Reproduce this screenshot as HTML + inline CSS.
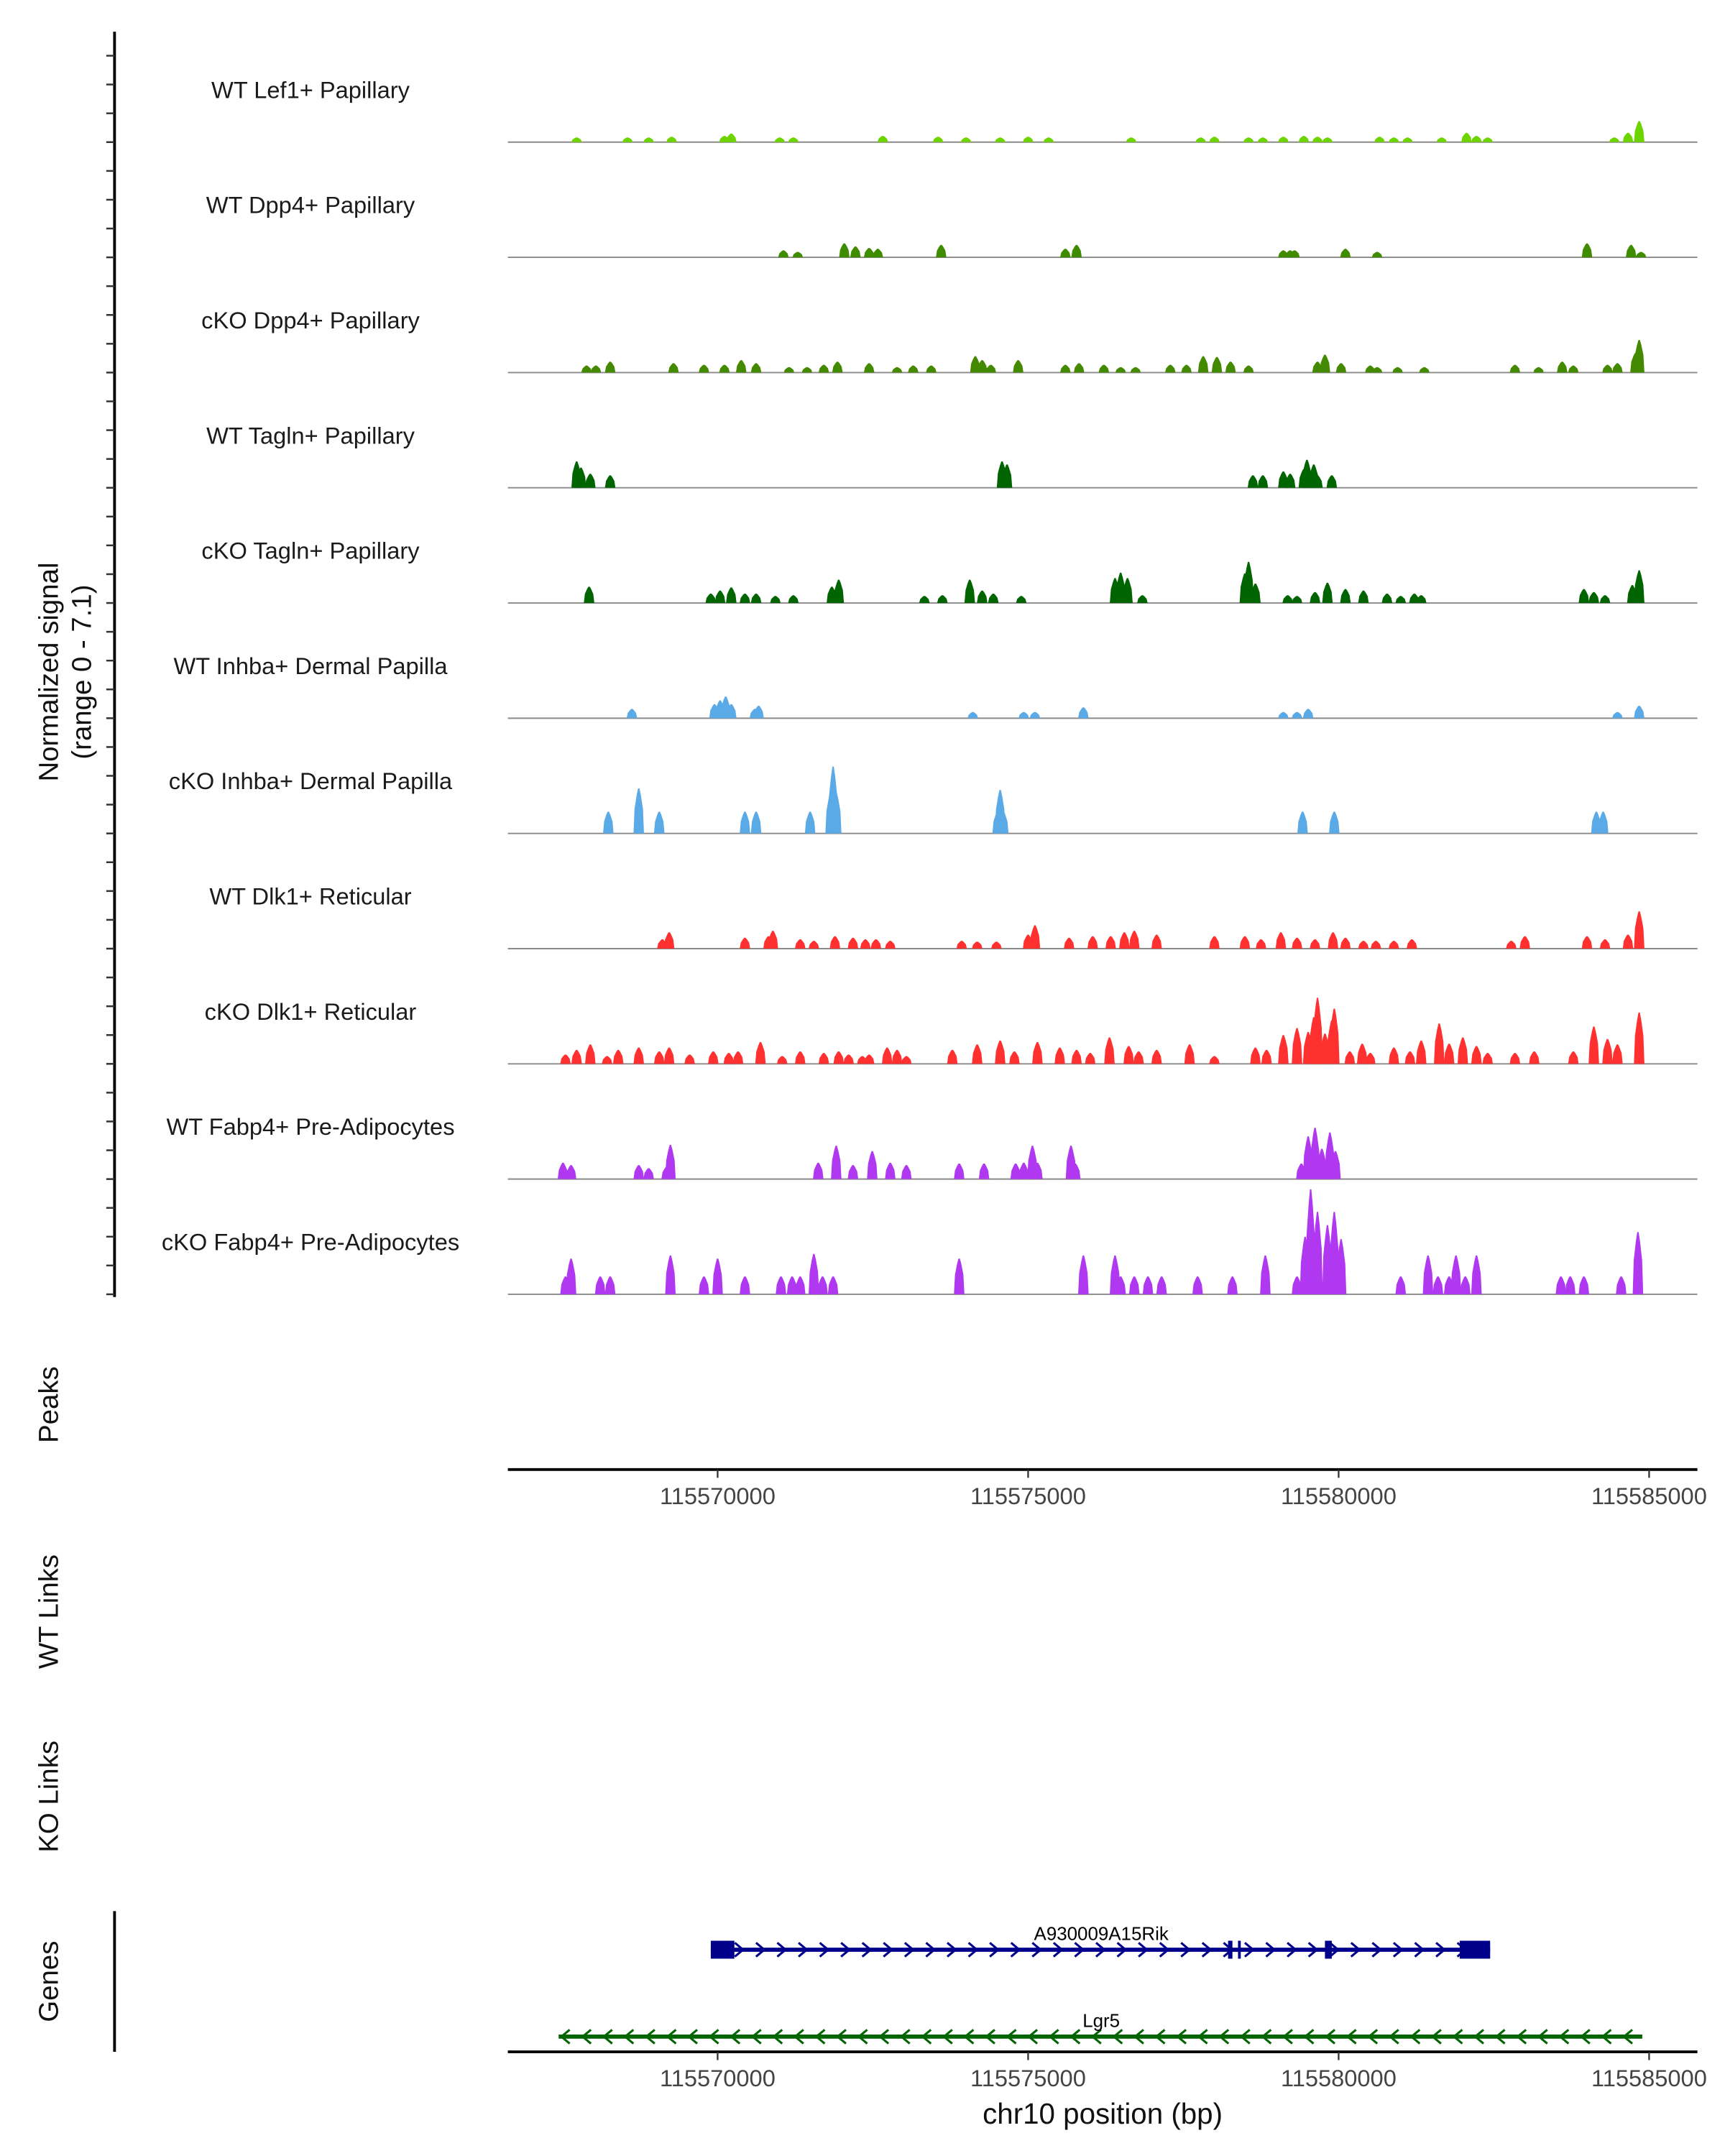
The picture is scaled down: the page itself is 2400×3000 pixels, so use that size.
<!DOCTYPE html>
<html><head><meta charset="utf-8"><style>html,body{margin:0;padding:0;background:#fff}svg{display:block}text{font-family:"Liberation Sans","DejaVu Sans",sans-serif}</style></head>
<body>
<svg id="chart" xmlns="http://www.w3.org/2000/svg" width="2400" height="3000" viewBox="0 0 1250 1562.5">
<rect x="0" y="0" width="1250" height="1562.5" fill="#fff"/>
<g id="tracks"></g>
<g id="axes"></g>
<g id="genes"></g>
<text transform="translate(42,487) rotate(-90)" text-anchor="middle" font-size="20" fill="#111">Normalized signal</text>
<text transform="translate(66,487) rotate(-90)" text-anchor="middle" font-size="20" fill="#111">(range 0 - 7.1)</text>
<text transform="translate(42,1018) rotate(-90)" text-anchor="middle" font-size="20" fill="#111">Peaks</text>
<text transform="translate(42,1168) rotate(-90)" text-anchor="middle" font-size="20" fill="#111">WT Links</text>
<text transform="translate(42,1302) rotate(-90)" text-anchor="middle" font-size="20" fill="#111">KO Links</text>
<text transform="translate(42,1436) rotate(-90)" text-anchor="middle" font-size="20" fill="#111">Genes</text>
<text x="799" y="1539" text-anchor="middle" font-size="21" fill="#111">chr10 position (bp)</text>
</svg>
<script>
const trackNames = ["WT Lef1+ Papillary","WT Dpp4+ Papillary","cKO Dpp4+ Papillary","WT Tagln+ Papillary","cKO Tagln+ Papillary","WT Inhba+ Dermal Papilla","cKO Inhba+ Dermal Papilla","WT Dlk1+ Reticular","cKO Dlk1+ Reticular","WT Fabp4+ Pre-Adipocytes","cKO Fabp4+ Pre-Adipocytes"];
const trackColors = ["#6dd400","#3f8c00","#448a00","#006400","#006400","#5aaae8","#5aaae8","#ff3030","#ff3030","#b038f0","#b038f0"];
const xTicks = [115570000,115575000,115580000,115585000];
const yMax = 7.1;
// peaks: [position kb, value]
const lef1WT = [[115567.73,0.3],[115568.55,0.3],[115568.89,0.3],[115569.26,0.35],[115570.11,0.4],[115570.22,0.55],[115571.0,0.3],[115571.22,0.3],[115572.66,0.4],[115573.55,0.35],[115574.0,0.3],[115574.55,0.3],[115575.0,0.35],[115575.33,0.3],[115576.66,0.3],[115577.78,0.3],[115578.0,0.35],[115578.55,0.3],[115578.78,0.3],[115579.11,0.35],[115579.44,0.4],[115579.66,0.35],[115579.82,0.3],[115580.66,0.35],[115580.89,0.3],[115581.11,0.3],[115581.66,0.3],[115582.06,0.6],[115582.22,0.4],[115582.40,0.3],[115584.44,0.3],[115584.66,0.6],[115584.84,1.35]];
const dpp4WT = [[115571.06,0.45],[115571.29,0.35],[115572.04,0.9],[115572.22,0.7],[115572.44,0.6],[115572.58,0.55],[115573.60,0.8],[115575.60,0.55],[115575.78,0.8],[115579.11,0.45],[115579.22,0.45],[115579.29,0.45],[115580.11,0.55],[115580.62,0.35],[115584.0,0.9],[115584.71,0.8],[115584.87,0.35]];
const dpp4KO = [[115567.89,0.45],[115568.04,0.45],[115568.27,0.7],[115569.29,0.6],[115569.78,0.5],[115570.11,0.5],[115570.38,0.8],[115570.62,0.6],[115571.15,0.35],[115571.44,0.35],[115571.71,0.5],[115571.93,0.7],[115572.44,0.6],[115572.89,0.35],[115573.15,0.45],[115573.44,0.45],[115574.15,1.05],[115574.26,0.8],[115574.40,0.5],[115574.84,0.8],[115575.60,0.5],[115575.82,0.6],[115576.22,0.5],[115576.49,0.35],[115576.73,0.35],[115577.29,0.5],[115577.55,0.5],[115577.82,1.05],[115578.04,1.0],[115578.26,0.7],[115578.55,0.45],[115579.66,0.7],[115579.78,1.15],[115580.04,0.6],[115580.51,0.45],[115580.62,0.35],[115580.95,0.35],[115581.38,0.35],[115582.84,0.5],[115583.22,0.35],[115583.60,0.7],[115583.78,0.45],[115584.33,0.5],[115584.49,0.6],[115584.78,1.25],[115584.84,2.1]];
const taglnWT = [[115567.73,1.7],[115567.80,1.3],[115567.95,0.9],[115568.27,0.8],[115574.58,1.7],[115574.66,1.5],[115578.62,0.8],[115578.78,0.8],[115579.11,1.05],[115579.22,0.9],[115579.44,1.2],[115579.49,1.8],[115579.60,1.5],[115579.66,0.8],[115579.89,0.8]];
const taglnKO = [[115567.93,1.05],[115569.89,0.6],[115570.04,0.8],[115570.22,1.0],[115570.44,0.6],[115570.62,0.6],[115570.93,0.45],[115571.22,0.5],[115571.84,1.05],[115571.95,1.5],[115573.33,0.45],[115573.62,0.5],[115574.06,1.5],[115574.26,0.8],[115574.44,0.6],[115574.89,0.45],[115576.40,1.6],[115576.49,1.95],[115576.60,1.6],[115576.84,0.5],[115578.49,1.9],[115578.55,2.65],[115578.66,1.25],[115579.18,0.5],[115579.33,0.45],[115579.62,0.7],[115579.82,1.3],[115580.11,0.9],[115580.40,0.8],[115580.78,0.6],[115581.0,0.45],[115581.22,0.6],[115581.33,0.5],[115583.95,0.9],[115584.11,0.7],[115584.29,0.5],[115584.73,1.15],[115584.84,2.1]];
const inhbaWT = [[115568.62,0.6],[115569.95,0.9],[115570.04,1.15],[115570.13,1.4],[115570.22,0.9],[115570.60,0.6],[115570.66,0.8],[115574.11,0.4],[115574.93,0.4],[115575.11,0.4],[115575.89,0.7],[115579.11,0.4],[115579.33,0.4],[115579.51,0.6],[115584.49,0.4],[115584.84,0.8]];
const inhbaKO = [[115568.24,1.4],[115568.73,2.9],[115569.06,1.4],[115570.44,1.4],[115570.62,1.4],[115571.49,1.4],[115571.82,2.6],[115571.86,4.3],[115571.91,2.6],[115574.51,1.4],[115574.55,2.8],[115574.60,1.4],[115579.42,1.4],[115579.93,1.4],[115584.15,1.4],[115584.26,1.4]];
const dlk1WT = [[115569.11,0.6],[115569.22,1.05],[115570.44,0.7],[115570.82,0.8],[115570.89,1.15],[115571.33,0.6],[115571.55,0.5],[115571.89,0.8],[115572.18,0.7],[115572.38,0.6],[115572.55,0.6],[115572.78,0.5],[115573.93,0.5],[115574.18,0.45],[115574.49,0.45],[115575.0,0.9],[115575.11,1.5],[115575.66,0.7],[115576.04,0.8],[115576.33,0.8],[115576.55,1.05],[115576.71,1.15],[115577.07,0.9],[115578.0,0.8],[115578.49,0.8],[115578.75,0.6],[115579.07,1.05],[115579.33,0.7],[115579.62,0.6],[115579.91,1.05],[115580.11,0.7],[115580.40,0.5],[115580.60,0.5],[115580.89,0.5],[115581.18,0.6],[115582.78,0.5],[115583.0,0.8],[115584.0,0.8],[115584.29,0.6],[115584.66,0.9],[115584.84,2.4]];
const dlk1KO = [[115567.55,0.6],[115567.73,0.9],[115567.95,1.25],[115568.22,0.5],[115568.40,0.9],[115568.73,1.05],[115569.06,0.8],[115569.22,1.05],[115569.55,0.6],[115569.93,0.8],[115570.18,0.7],[115570.33,0.8],[115570.69,1.4],[115571.04,0.5],[115571.33,0.8],[115571.71,0.7],[115571.95,0.8],[115572.11,0.6],[115572.33,0.5],[115572.44,0.6],[115572.73,1.05],[115572.89,0.9],[115573.04,0.5],[115573.78,0.9],[115574.18,1.25],[115574.55,1.5],[115574.78,0.8],[115575.15,1.4],[115575.51,1.05],[115575.78,0.9],[115576.0,0.7],[115576.31,1.7],[115576.62,1.15],[115576.78,0.8],[115577.07,0.9],[115577.60,1.25],[115578.0,0.5],[115578.66,1.05],[115578.84,0.9],[115579.11,1.85],[115579.33,2.3],[115579.51,2.05],[115579.60,3.0],[115579.66,4.25],[115579.78,1.95],[115579.89,2.8],[115579.93,3.55],[115580.18,0.8],[115580.38,1.3],[115580.51,0.7],[115580.89,1.05],[115581.15,0.8],[115581.33,1.5],[115581.62,2.6],[115581.78,1.3],[115582.0,1.7],[115582.22,1.15],[115582.40,0.7],[115582.84,0.7],[115583.15,0.8],[115583.78,0.8],[115584.11,2.4],[115584.33,1.6],[115584.49,1.25],[115584.84,3.3]];
const fabp4WT = [[115567.51,1.05],[115567.64,0.9],[115568.73,0.9],[115568.89,0.7],[115569.18,0.8],[115569.24,2.2],[115571.62,1.05],[115571.91,2.15],[115572.18,0.9],[115572.49,1.8],[115572.78,1.05],[115573.04,0.9],[115573.89,1.0],[115574.29,1.0],[115574.80,1.0],[115574.93,1.05],[115575.07,2.15],[115575.15,1.05],[115575.69,2.15],[115575.76,1.0],[115579.40,1.0],[115579.51,2.75],[115579.62,3.3],[115579.73,1.95],[115579.86,3.0],[115579.95,1.8]];
const fabp4KO = [[115567.55,1.15],[115567.64,2.3],[115568.11,1.15],[115568.27,1.15],[115569.24,2.5],[115569.78,1.15],[115570.00,2.3],[115570.44,1.15],[115571.02,1.15],[115571.20,1.15],[115571.33,1.15],[115571.55,2.6],[115571.69,1.15],[115571.86,1.15],[115573.89,2.3],[115575.89,2.5],[115576.40,2.5],[115576.49,1.15],[115576.71,1.15],[115576.93,1.15],[115577.15,1.15],[115577.73,1.15],[115578.29,1.15],[115578.82,2.5],[115579.33,1.15],[115579.46,3.7],[115579.55,6.75],[115579.66,5.3],[115579.82,4.45],[115579.93,5.3],[115580.04,3.55],[115581.0,1.15],[115581.44,2.5],[115581.60,1.15],[115581.78,1.15],[115581.89,2.5],[115582.04,1.15],[115582.22,2.5],[115583.58,1.15],[115583.73,1.15],[115583.95,1.15],[115584.55,1.15],[115584.82,4.0]];
const geneNames = ["A930009A15Rik","Lgr5"];
const geneSpans = [[115569.89,115582.44],[115567.44,115584.89]];
const geneExons = [[[115569.89,115570.27],[115578.22,115578.29],[115578.38,115578.42],[115579.78,115579.89],[115581.95,115582.44]],[]];
const geneStrands = ["+","-"];

const series = [lef1WT,dpp4WT,dpp4KO,taglnWT,taglnKO,inhbaWT,inhbaKO,dlk1WT,dlk1KO,fabp4WT,fabp4KO];
const NS="http://www.w3.org/2000/svg";
const X0=368,X1=1230,KB0=115566.622,PXKB=45;
function xs(kb){return X0+(kb-KB0)*PXKB;}
function xbp(bp){return xs(bp/1000);}
const TOP=103,STEP=83.5,TH=80;
function ys(v,b){return b-v/yMax*TH;}
function mk(tag,attrs,parent){const e=document.createElementNS(NS,tag);for(const k in attrs)e.setAttribute(k,attrs[k]);parent.appendChild(e);return e;}
const tracks=document.getElementById('tracks'),axes=document.getElementById('axes'),genes=document.getElementById('genes');
series.forEach((data,i)=>{
  const b=TOP+i*STEP;
  const g=mk('g',{},tracks);
  
  
  const t=mk('text',{x:225,y:b-32,'text-anchor':'middle','font-size':'17',fill:'#1a1a1a'},g);
  t.textContent=trackNames[i];
  
  
  const base=mk('line',{x1:X0,x2:X1,y1:b,y2:b,stroke:'#8a8a8a','stroke-width':'1'},g);
  
  
  data.forEach(p=>{
    const cx=xs(p[0]),y=ys(p[1],b),w=3.8;
    const pk=mk('polygon',{points:`${cx-w},${b} ${cx-w*0.8},${y+(b-y)*0.45} ${cx-w*0.4},${y+(b-y)*0.15} ${cx-0.5},${y} ${cx+0.5},${y} ${cx+w*0.4},${y+(b-y)*0.15} ${cx+w*0.8},${y+(b-y)*0.45} ${cx+w},${b}`,fill:trackColors[i]},g);
    
    
  });
});
const ya=mk('line',{x1:83,x2:83,y1:23,y2:940,stroke:'#000','stroke-width':'2'},axes);


for(let i=0;i<11;i++){for(let k=0;k<4;k++){const y=TOP+i*STEP-k*STEP/4;const tk=mk('line',{x1:77,x2:83,y1:y,y2:y,stroke:'#333','stroke-width':'1.3'},axes);

}}
[[1065],[1487]].forEach((r,j)=>{
  const yy=r[0];
  const l=mk('line',{x1:X0,x2:X1,y1:yy,y2:yy,stroke:'#000','stroke-width':'2'},axes);
  
  
  xTicks.forEach(v=>{
    const x=xbp(v);
    const tk=mk('line',{x1:x,x2:x,y1:yy,y2:yy+6,stroke:'#333','stroke-width':'1.2'},axes);
    
    
    const tl=mk('text',{x:x,y:yy+25,'text-anchor':'middle','font-size':'17',fill:'#444'},axes);
    tl.textContent=String(v);
    
    
  });
});
const gl=mk('line',{x1:83,x2:83,y1:1385,y2:1487,stroke:'#000','stroke-width':'2'},axes);


const geneY=[1413,1476],geneCol=["#00008b","#006400"];
geneNames.forEach((n,i)=>{
  const g=mk('g',{},genes);
  
  
  const y=geneY[i],a=xs(geneSpans[i][0]),b=xs(geneSpans[i][1]),c=geneCol[i];
  mk('line',{x1:a,x2:b,y1:y,y2:y,stroke:c,'stroke-width':'3'},g);
  for(let x=a+5;x<b-3;x+=15.4){
    const d=geneStrands[i]=='+'?3:-3;
    mk('polyline',{points:`${x-d},${y-5} ${x+d},${y} ${x-d},${y+5}`,fill:'none',stroke:c,'stroke-width':'1.6'},g);
  }
  geneExons[i].forEach(e=>{const ea=xs(e[0]),eb=xs(e[1]);mk('rect',{x:ea,y:y-6.5,width:Math.max(eb-ea,2),height:13,fill:c},g);});
  const t=mk('text',{x:(xs(115575.0)+53),y:y-7,'text-anchor':'middle','font-size':'13.5',fill:'#000'},g);
  t.textContent=n;
  
  
});
</script>
</body></html>
